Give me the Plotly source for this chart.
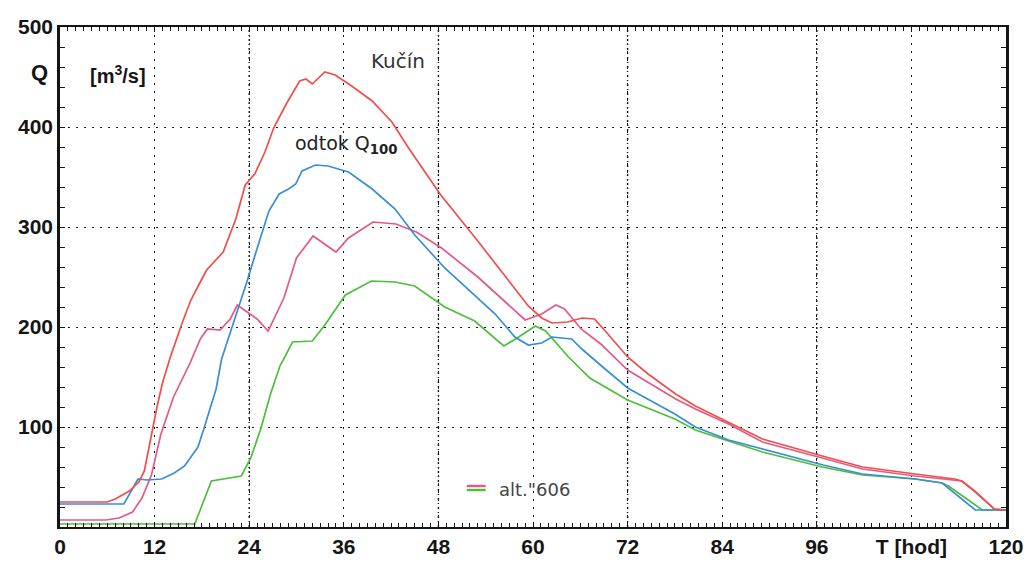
import plotly.graph_objects as go

# ---- data (hours, m3/s) ----
t_kucin = [0, 6, 7, 8.8, 10, 10.7, 11.3, 11.8, 12.3, 13, 14, 15.4, 16.6, 17.8, 18.6, 20.7, 22.3, 23.5,
           24.7, 26, 27.1, 28.7, 30.4, 31.2, 32, 33.6, 34.9, 37, 39.6, 42.1, 44.3, 48.3, 52.9, 59.4,
           61.1, 62.4, 64.4, 66.2, 67.8, 69.5, 72, 74.6, 78.1, 80.6, 84.8, 89.1, 96.7, 101.8, 108.5,
           113.5, 114.4, 116, 117.7, 118.5, 120]
q_kucin = [25, 25, 28, 36, 45, 56, 80, 101, 120, 144, 170, 202, 227, 245, 257, 275, 308, 342,
           353, 375, 399, 423, 446, 448, 443, 455, 452, 441, 426, 405, 378, 332, 287, 221,
           209, 204, 205, 209, 208, 193, 170, 153, 133, 121, 105, 88, 71, 60, 53,
           48, 46, 36, 24, 18, 17]

t_odtok = [0, 8.1, 9.9, 11, 12.9, 14.5, 15.8, 17.5, 18.2, 19.8, 20.5, 22.2, 23.7, 24.9, 26.5, 27.8,
           29.0, 29.9, 30.7, 32.4, 34.0, 36.6, 39.6, 42.5, 45.0, 48.8, 55.2, 57.7, 59.4, 61.1, 62.4,
           64.9, 66.2, 68.7, 72, 78, 80.6, 84.8, 89.1, 96.8, 101.8, 108.5, 111.9, 116.1, 120]
q_odtok = [23, 23, 48, 47, 48, 54, 61, 80, 97, 138, 168, 208, 245, 276, 316, 333,
           338, 343, 356, 362, 361, 355, 338, 318, 292, 259, 213, 190, 182, 184, 190,
           188, 178, 161, 139, 113, 100, 87, 78, 62, 53, 48, 44, 17, 17]

t_alt_r = [0, 5.8, 7.5, 9.2, 10.4, 11.6, 12.8, 14.4, 16.5, 17.8, 18.7, 20.3, 21.6, 22.5, 23.2, 25.0,
           26.4, 28.4, 30.0, 32.1, 35.0, 36.6, 39.7, 42.6, 45.2, 48.4, 53.0, 59.0, 61.1, 62.9, 64.0,
           66.1, 68.6, 72.0, 78.1, 80.6, 84.8, 89.1, 96.7, 101.8, 108.5, 114.4, 116, 117.7, 118.5, 120]
q_alt_r = [7, 7, 9, 15, 29, 52, 93, 130, 164, 188, 198, 197, 208, 222, 218, 208,
           196, 229, 269, 291, 275, 289, 305, 303, 295, 279, 250, 207, 213, 222, 218,
           198, 183, 157, 128, 118, 103, 85, 69, 58, 51, 46, 36, 24, 18, 17]

t_alt_g = [0, 17.1, 19.2, 23.0, 24.2, 25.5, 26.7, 27.9, 29.5, 32.0, 33.6, 36.2, 39.5, 42.5, 45.0,
           48.8, 52.6, 56.3, 57.8, 60.3, 61.6, 64.5, 67.2, 72, 78, 80.6, 84.8, 89.1, 96.7, 101.8,
           108.5, 111.9, 112.7, 117, 120]
q_alt_g = [3, 3, 46, 51, 69, 99, 133, 161, 185, 186, 202, 232, 246, 245, 241,
           220, 206, 181, 188, 201, 196, 170, 149, 127, 108, 97, 86, 75, 60, 52,
           48, 44, 41, 17, 17]

x_ticks = [0, 12, 24, 36, 48, 60, 72, 84, 96, 108, 120]
x_ticktext = ["0", "12", "24", "36", "48", "60", "72", "84", "96", "T [hod]", "120"]
y_ticks = [100, 200, 300, 400, 500]

RED, PINK, BLUE, GREEN = "#ee4f4c", "#e35a88", "#3a8ed3", "#4cbf3a"
INK = "#151515"

fig = go.Figure()
for t, q, c in [(t_alt_g, q_alt_g, GREEN), (t_alt_r, q_alt_r, PINK),
                (t_odtok, q_odtok, BLUE), (t_kucin, q_kucin, RED)]:
    fig.add_trace(go.Scatter(x=t, y=q, mode="lines", line=dict(color=c, width=1.7),
                             showlegend=False, hoverinfo="skip"))

# denser dash-dot grid lines every 24 h
for v in x_ticks:
    if v % 24 == 0 and 0 < v < 120:
        fig.add_shape(type="line", xref="x", yref="paper", x0=v, x1=v, y0=0, y1=1,
                      line=dict(color=INK, width=1.4, dash="2px,3px,1px,3px"), layer="below")

# legend swatch for alt."606
fig.add_shape(type="line", xref="x", yref="y", x0=51.6, x1=54.0, y0=41, y1=41,
              line=dict(color=PINK, width=2.4))
fig.add_shape(type="line", xref="x", yref="y", x0=51.6, x1=54.0, y0=37, y1=37,
              line=dict(color=GREEN, width=2.4))

tick_font = dict(family="Liberation Sans", size=21, color=INK, weight="bold")

fig.update_xaxes(range=[0, 120], tickvals=x_ticks, ticktext=x_ticktext, tickfont=tick_font,
                 showgrid=True, gridcolor=INK, gridwidth=1.4, griddash="2px,6px",
                 showline=True, linecolor=INK, linewidth=2, mirror="allticks",
                 ticks="inside", ticklen=5, tickcolor=INK, zeroline=False,
                 minor=dict(dtick=1, ticks="inside", ticklen=4, tickcolor=INK, showgrid=False))
fig.update_yaxes(range=[0, 500], tickvals=y_ticks, tickfont=tick_font,
                 showgrid=True, gridcolor=INK, gridwidth=1.4, griddash="2px,6px",
                 showline=True, linecolor=INK, linewidth=2.5, mirror="allticks",
                 ticks="inside", ticklen=5, tickcolor=INK, zeroline=False,
                 minor=dict(dtick=20, ticks="inside", ticklen=5, tickcolor=INK, showgrid=False))

anns = [
    dict(x=-0.022, xref="paper", y=455, yref="y", text="<b>Q</b>", xanchor="center",
         font=dict(family="Liberation Sans", size=22, color=INK)),
    dict(x=7.3, xref="x", y=453, yref="y", text="<b>[m<sup>3</sup>/s]</b>",
         font=dict(family="Liberation Sans", size=20, color=INK)),
    dict(x=42.9, xref="x", y=466, yref="y", text="Kučín",
         font=dict(family="DejaVu Sans", size=20, color="#333333")),
    dict(x=36.4, xref="x", y=383, yref="y", text="odtok Q<sub><b>100</b></sub>",
         font=dict(family="DejaVu Sans", size=19, color="#222222")),
    dict(x=60.2, xref="x", y=38, yref="y", text='alt."606',
         font=dict(family="DejaVu Sans", size=18, color="#444444")),
]
for a in anns:
    fig.add_annotation(showarrow=False, **a)

fig.update_layout(width=1036, height=574, margin=dict(l=60, r=26, t=27, b=47),
                  paper_bgcolor="white", plot_bgcolor="white")

fig.write_html("out.html")
